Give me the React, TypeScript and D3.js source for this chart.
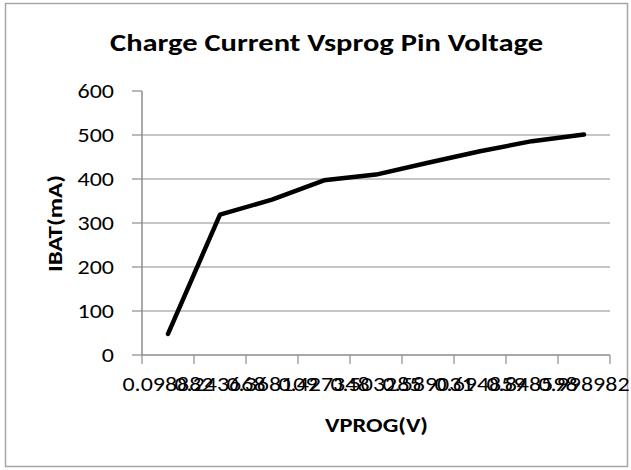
import React from "react";
import * as d3 from "d3";

const categories = [
  "0.098882",
  "0.243668",
  "0.368109",
  "0.427348",
  "0.503285",
  "0.589031",
  "0.694859",
  "0.848598",
  "0.998982",
];
const ibat = [48, 319, 353, 397, 410, 437, 463, 486, 501];
const yTicks = [0, 100, 200, 300, 400, 500, 600];

const W = 631;
const H = 470;
const M = { left: 142, right: 21, top: 91, bottom: 115 };
const FONT = "Carlito, Calibri, Lato, sans-serif";
const SX = 1.2;

export default function App() {
  const x = d3
    .scaleBand<string>()
    .domain(categories)
    .range([M.left, W - M.right])
    .paddingInner(0)
    .paddingOuter(0);
  const y = d3.scaleLinear().domain([0, 600]).range([H - M.bottom, M.top]);
  const cx = (c: string) => (x(c) as number) + x.bandwidth() / 2;
  const line = d3
    .line<number>()
    .x((_, i) => cx(categories[i]))
    .y((d) => y(d));
  const x0 = M.left;
  const x1 = W - M.right;
  const yBase = y(0);
  const tickXs = categories.map((c) => x(c) as number).concat([x1]);

  return (
    <svg
      width={W}
      height={H}
      style={{ position: "absolute", left: 0, top: 0, background: "#fff" }}
      fontFamily={FONT}
    >
      <rect x={5.5} y={3.5} width={622} height={463} fill="#fff" stroke="#a6a6a6" strokeWidth={1.5} />
      <text
        x={326.5}
        y={51}
        textAnchor="middle"
        fontSize={25}
        fontWeight="bold"
        fill="#000"
        textLength={433}
        lengthAdjust="spacingAndGlyphs"
      >
        Charge Current Vsprog Pin Voltage
      </text>
      {yTicks.map((t) => (
        <g key={t}>
          {t > 0 && t < 600 && (
            <line x1={x0} x2={x1} y1={y(t)} y2={y(t)} stroke="#8c8c8c" strokeWidth={1.2} />
          )}
          <line x1={x0 - 10} x2={x0} y1={y(t)} y2={y(t)} stroke="#8c8c8c" strokeWidth={1.2} />
          <text
            transform={`translate(${x0 - 28},${y(t) + 7}) scale(${SX},1)`}
            textAnchor="end"
            fontSize={20}
            fill="#000"
          >
            {t}
          </text>
        </g>
      ))}
      <line x1={x0} x2={x0} y1={M.top} y2={yBase} stroke="#8c8c8c" strokeWidth={1.5} />
      <line x1={x0} x2={x1} y1={yBase} y2={yBase} stroke="#8c8c8c" strokeWidth={1.5} />
      {tickXs.map((tx, i) => (
        <line key={i} x1={tx} x2={tx} y1={yBase} y2={yBase + 9} stroke="#8c8c8c" strokeWidth={1.2} />
      ))}
      {categories.map((c) => (
        <text
          key={c}
          transform={`translate(${cx(c)},${yBase + 36}) scale(${SX},1)`}
          textAnchor="middle"
          fontSize={20}
          fill="#000"
        >
          {c}
        </text>
      ))}
      <path
        d={line(ibat) || ""}
        fill="none"
        stroke="#000"
        strokeWidth={4.5}
        strokeLinejoin="round"
        strokeLinecap="round"
      />
      <text
        x={376.5}
        y={432}
        textAnchor="middle"
        fontSize={21}
        fontWeight="bold"
        fill="#000"
        textLength={103}
        lengthAdjust="spacingAndGlyphs"
      >
        VPROG(V)
      </text>
      <text
        transform={`translate(62,223.5) rotate(-90)`}
        textAnchor="middle"
        fontSize={21}
        fontWeight="bold"
        fill="#000"
        textLength={97}
        lengthAdjust="spacingAndGlyphs"
      >
        IBAT(mA)
      </text>
    </svg>
  );
}
